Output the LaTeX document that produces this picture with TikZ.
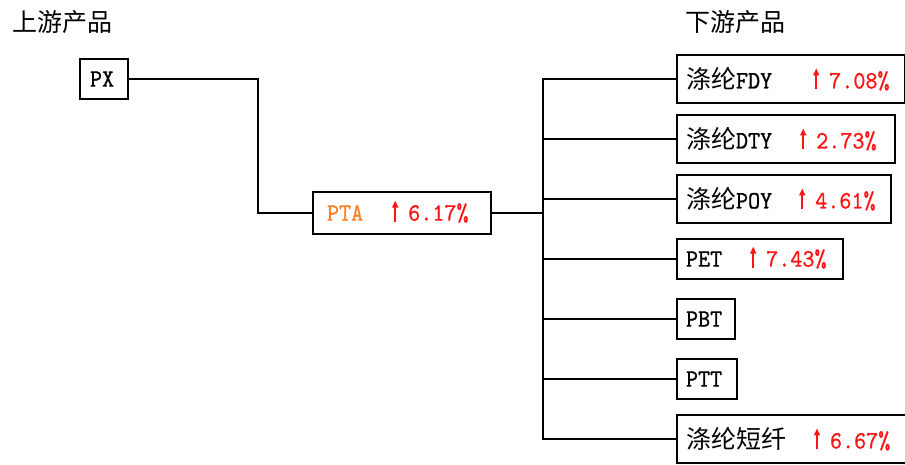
\documentclass[tikz,border=0pt]{standalone}
\usepackage{fontspec}
\setmainfont{lmmono10-regular.otf}[FakeStretch=0.92, FakeBold=0.8]
\newfontfamily\cjk{Noto Sans CJK SC}
\definecolor{ptaorange}{RGB}{255,127,39}
\definecolor{upred}{RGB}{255,20,20}
\usetikzlibrary{positioning,arrows.meta}
\tikzset{
  prod/.style={draw, line width=2pt, anchor=west, align=left, inner xsep=9pt, inner ysep=0pt, minimum height=48pt},
  prodsmall/.style={prod, minimum height=40pt},
  link/.style={line width=2pt}
}
% small red rise arrow followed by the percentage
\newcommand{\up}[1]{{\color{upred}\tikz[baseline=0pt, x=1pt, y=1pt]{\useasboundingbox (-6,0) rectangle (13,1);
  \draw [upred, line width=1.6pt, -{Triangle[length=7pt, width=6pt]}] (0,-1) -- (0,20);}#1\%}}

\begin{document}
\begin{tikzpicture}[x=1pt, y=-1pt, font=\fontsize{25}{28}\selectfont]
  \useasboundingbox (0,0) rectangle (905,464);

  \node [anchor=west, inner sep=0pt] (uphead) at (12,22) {\cjk 上游产品};
  \node [anchor=west, inner sep=0pt] (downhead) at (685,22) {\cjk 下游产品};

  \node [prodsmall, inner xsep=10pt, text width=28pt] (px) at (79,79) {PX};
  \node [prod, minimum height=42pt, inner xsep=14pt, text width=150pt] (pta) at (312,213) {{\color{ptaorange}PTA}\hspace{26pt}\up{6.17}};

  \node [prod, text width=210pt] (fdy) at (676,79) {{\cjk 涤纶}FDY\hspace{38pt}\up{7.08}};
  \node [prod, text width=200pt] (dty) at (676,139) {{\cjk 涤纶}DTY\hspace{25pt}\up{2.73}};
  \node [prod, text width=196pt] (poy) at (676,199) {{\cjk 涤纶}POY\hspace{24pt}\up{4.61}};
  \node [prodsmall, text width=148pt] (pet) at (676,259) {PET\hspace{25pt}\up{7.43}};
  \node [prodsmall, text width=40pt] (pbt) at (676,319) {PBT};
  \node [prodsmall, text width=42pt] (ptt) at (676,379) {PTT};
  \node [prod, text width=214pt] (fiber) at (676,439) {{\cjk 涤纶短纤}\hspace{25pt}\up{6.67}};

  % upstream to PTA
  \coordinate (bend) at (258,213);
  \draw [link] (px.east) -| (bend) -- (pta.west);

  % PTA to downstream products
  \coordinate (hub) at (543,213);
  \draw [link] (pta.east) -- (hub);
  \foreach \n in {fdy,dty,poy,pet,pbt,ptt,fiber}
    \draw [link] (hub) |- (\n.west);

\end{tikzpicture}
\end{document}
